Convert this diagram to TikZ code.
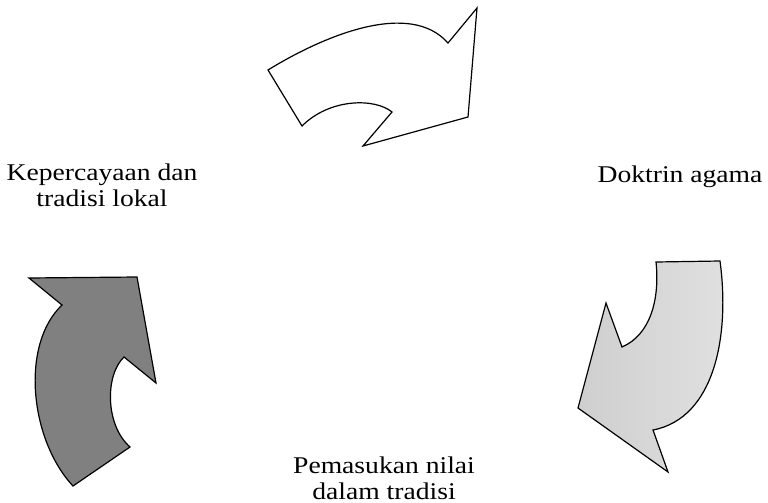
\documentclass[tikz,border=0pt]{standalone}
\usepackage{fontspec}
\setmainfont{Liberation Serif}[FakeStretch=1.15]
\begin{document}
\begin{tikzpicture}[x=1pt,y=-1pt,
  arrowshape/.style={draw=black, line width=1.2pt, line join=miter},
  lbl/.style={font=\fontsize{24}{26}\selectfont, align=center, text=black, inner sep=0pt}]
\useasboundingbox (0,0) rectangle (768,503);
% top arrow
\draw[arrowshape, fill=white] (268,70) .. controls (325,35) and (410,0) .. (448,43)
  -- (477,8) -- (468,117) -- (363,146) -- (392,112)
  .. controls (375,98) and (330,98) .. (302,126) -- cycle;
% right arrow
\draw[arrowshape, left color=gray!38, right color=gray!24] (720,261) .. controls (730,335) and (715,418) .. (653,430)
  -- (668,472) -- (578,408) -- (606,303) -- (622,347)
  .. controls (650,335) and (660,300) .. (656,262) -- cycle;
% left arrow
\draw[arrowshape, fill=gray] (73,486) .. controls (30,440) and (20,345) .. (62,305)
  -- (29,278) -- (137,277) -- (156,383) -- (124,357)
  .. controls (105,375) and (105,425) .. (130,447) -- cycle;
\node[lbl] (k) at (102,185) {Kepercayaan dan\\tradisi lokal};
\node[lbl] (d) at (680,177) {Doktrin agama};
\node[lbl] (p) at (384,478) {Pemasukan nilai\\dalam tradisi};
\end{tikzpicture}
\end{document}
